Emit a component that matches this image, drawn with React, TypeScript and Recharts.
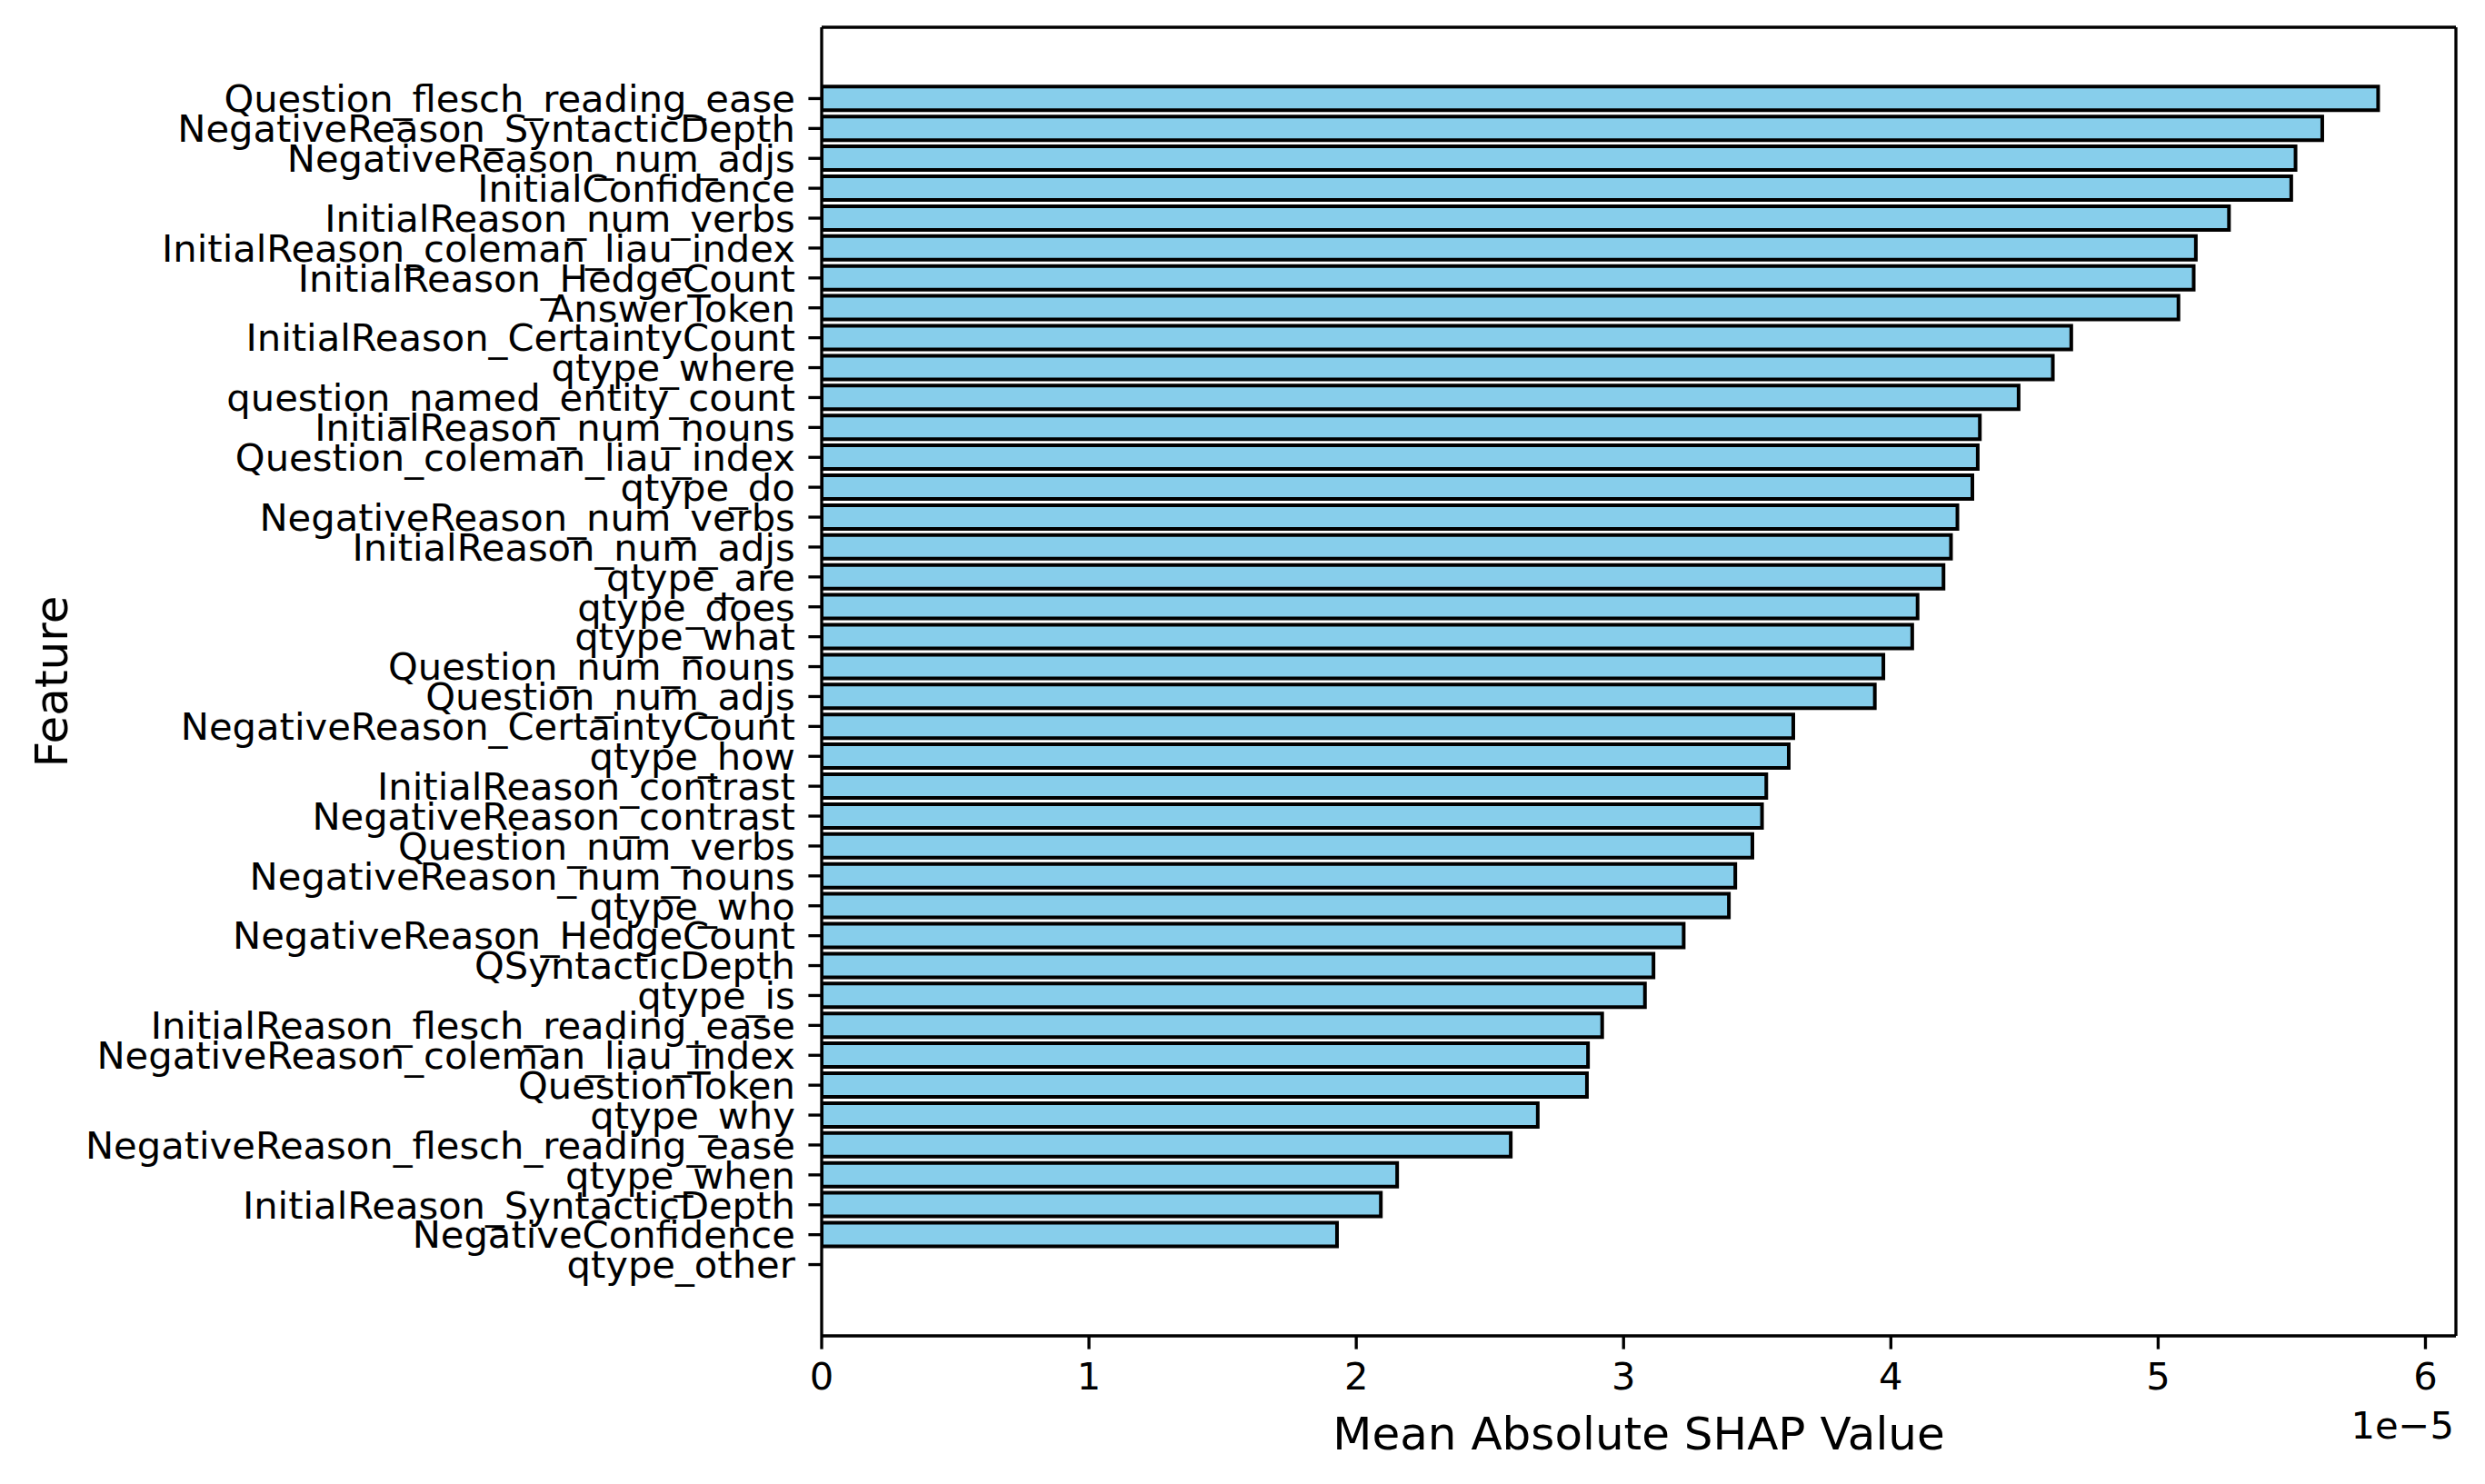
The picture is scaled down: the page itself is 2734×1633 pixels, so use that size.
import React from 'react';
import { BarChart, Bar, XAxis, YAxis, Label } from 'recharts';

const features = [
  'Question_flesch_reading_ease',
  'NegativeReason_SyntacticDepth',
  'NegativeReason_num_adjs',
  'InitialConfidence',
  'InitialReason_num_verbs',
  'InitialReason_coleman_liau_index',
  'InitialReason_HedgeCount',
  'AnswerToken',
  'InitialReason_CertaintyCount',
  'qtype_where',
  'question_named_entity_count',
  'InitialReason_num_nouns',
  'Question_coleman_liau_index',
  'qtype_do',
  'NegativeReason_num_verbs',
  'InitialReason_num_adjs',
  'qtype_are',
  'qtype_does',
  'qtype_what',
  'Question_num_nouns',
  'Question_num_adjs',
  'NegativeReason_CertaintyCount',
  'qtype_how',
  'InitialReason_contrast',
  'NegativeReason_contrast',
  'Question_num_verbs',
  'NegativeReason_num_nouns',
  'qtype_who',
  'NegativeReason_HedgeCount',
  'QSyntacticDepth',
  'qtype_is',
  'InitialReason_flesch_reading_ease',
  'NegativeReason_coleman_liau_index',
  'QuestionToken',
  'qtype_why',
  'NegativeReason_flesch_reading_ease',
  'qtype_when',
  'InitialReason_SyntacticDepth',
  'NegativeConfidence',
  'qtype_other',
];

const shapValues = [
  5.823e-5, 5.614e-5, 5.514e-5, 5.498e-5, 5.265e-5, 5.141e-5, 5.133e-5, 5.076e-5,
  4.675e-5, 4.606e-5, 4.478e-5, 4.333e-5, 4.325e-5, 4.305e-5, 4.249e-5, 4.225e-5,
  4.197e-5, 4.1e-5, 4.08e-5, 3.972e-5, 3.94e-5, 3.635e-5, 3.618e-5, 3.534e-5,
  3.518e-5, 3.482e-5, 3.418e-5, 3.394e-5, 3.225e-5, 3.112e-5, 3.08e-5, 2.92e-5,
  2.867e-5, 2.863e-5, 2.679e-5, 2.578e-5, 2.153e-5, 2.092e-5, 1.928e-5, 0,
];

const xTicks = [0, 1e-5, 2e-5, 3e-5, 4e-5, 5e-5, 6e-5];
const xDomainMax = 6.114e-5;
const xLabel = 'Mean Absolute SHAP Value';
const yLabel = 'Feature';
const offsetText = '1e\u22125';

const data = features.map((feature, i) => ({ feature, value: shapValues[i] }));

const FONT = "'DejaVu Sans', sans-serif";
const TICK_FS = 41.67;
const LABEL_FS = 50;
const LW = 3.33;

const YLabelContent = (props: any) => {
  const vb = props.viewBox || { x: 0, y: 0, width: 0, height: 0 };
  const x = vb.x + 57;
  const y = vb.y + vb.height / 2;
  return (
    <text
      x={x}
      y={y}
      transform={`rotate(-90 ${x} ${y})`}
      textAnchor="middle"
      dominantBaseline="central"
      fontSize={LABEL_FS}
      fontFamily={FONT}
      fill="#000"
    >
      {yLabel}
    </text>
  );
};

const OffsetContent = (props: any) => {
  const vb = props.viewBox || { x: 0, y: 0, width: 0, height: 0 };
  const x = vb.x + vb.width - 2;
  const y = vb.y + 113;
  return (
    <text x={x} y={y} textAnchor="end" fontSize={TICK_FS} fontFamily={FONT} fill="#000">
      {offsetText}
    </text>
  );
};

export default function App() {
  return (
    <div style={{ position: 'absolute', left: 0, top: 0, background: '#fff' }}>
      <BarChart
        width={2734}
        height={1633}
        data={data}
        layout="vertical"
        margin={{ top: 29, right: 31, bottom: 0, left: 0 }}
        barCategoryGap="10%"
      >
        <XAxis
          type="number"
          domain={[0, xDomainMax]}
          ticks={xTicks}
          allowDataOverflow
          height={163}
          tickFormatter={(v: number) => String(Math.round(v * 1e5))}
          tick={{ fontSize: TICK_FS, fill: '#000', fontFamily: FONT }}
          tickSize={14.6}
          tickMargin={14.6}
          tickLine={{ stroke: '#000', strokeWidth: LW }}
          axisLine={{ stroke: '#000', strokeWidth: LW }}
        >
          <Label
            value={xLabel}
            position="insideBottom"
            offset={38}
            fontSize={LABEL_FS}
            fontFamily={FONT}
            fill="#000"
          />
          <Label content={OffsetContent} />
        </XAxis>
        <XAxis
          xAxisId="top"
          orientation="top"
          type="number"
          domain={[0, xDomainMax]}
          allowDataOverflow
          height={1}
          tick={false}
          tickLine={false}
          axisLine={{ stroke: '#000', strokeWidth: LW }}
        />
        <YAxis
          type="category"
          dataKey="feature"
          width={904}
          interval={0}
          padding={{ top: 62, bottom: 62 }}
          tick={{ fontSize: TICK_FS, fill: '#000', fontFamily: FONT }}
          tickSize={14.6}
          tickMargin={14.6}
          tickLine={{ stroke: '#000', strokeWidth: LW }}
          axisLine={{ stroke: '#000', strokeWidth: LW }}
        >
          <Label content={YLabelContent} />
        </YAxis>
        <YAxis
          yAxisId="right"
          orientation="right"
          type="category"
          dataKey="feature"
          width={1}
          interval={0}
          tick={false}
          tickLine={false}
          axisLine={{ stroke: '#000', strokeWidth: LW }}
        />
        <Bar
          dataKey="value"
          fill="#87CEEB"
          stroke="#000"
          strokeWidth={4}
          isAnimationActive={false}
        />
      </BarChart>
    </div>
  );
}
